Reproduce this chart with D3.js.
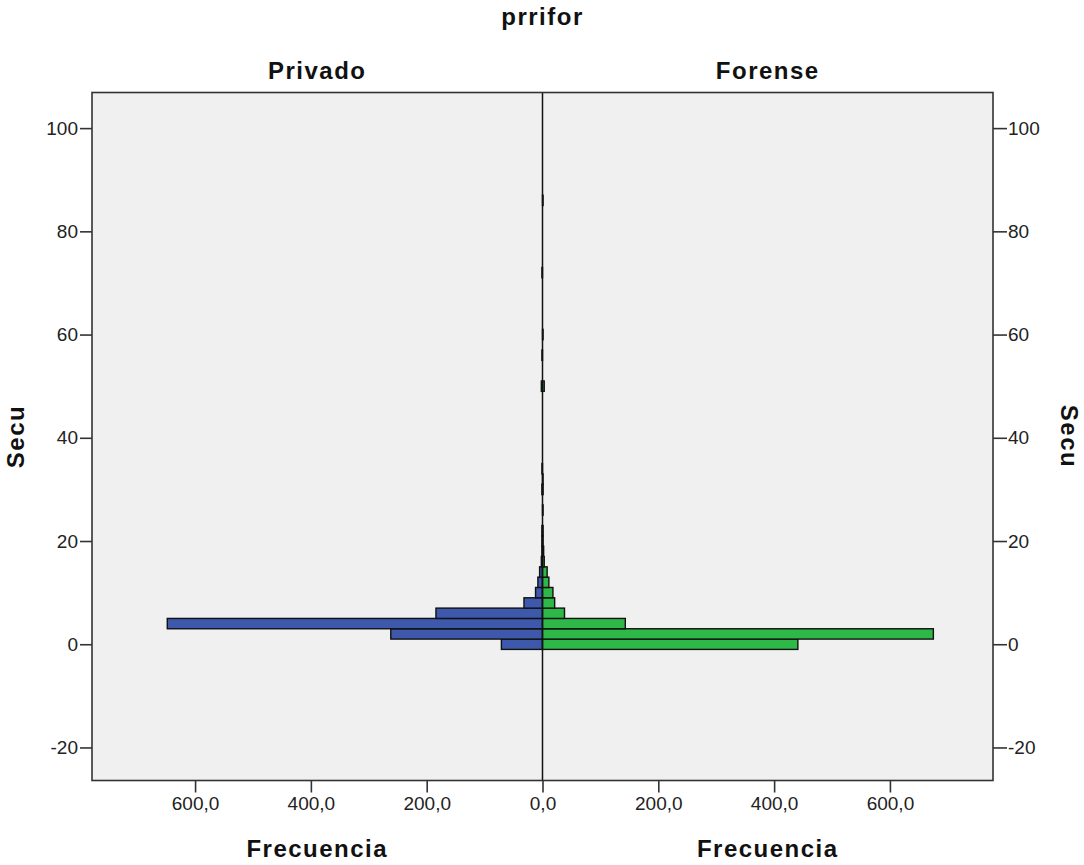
<!DOCTYPE html>
<html>
<head>
<meta charset="utf-8">
<script src="https://cdn.jsdelivr.net/npm/d3@7"></script>
<style>
  body { margin: 0; background: #fff; }
  .axis text { font-family: "Liberation Sans", Arial, sans-serif; font-size: 19px; fill: #222; }
  .axis line { stroke: #333; stroke-width: 1.6; }
  .lbl { font-family: "Liberation Sans", Arial, sans-serif; font-weight: bold; font-size: 24px; letter-spacing: 1.5px; fill: #111; }
</style>
</head>
<body>
<div id="chart"></div>
<script>
// bins of Secu (width 2), counts
const binCenters = [0, 2, 4, 6, 8, 10, 12, 14, 16, 18, 20, 22, 26, 30, 32, 34, 50, 56, 60, 72, 86];
const privado    = [71, 262, 648, 184, 32, 12, 8, 5, 2, 1, 1, 1, 0, 1, 0, 1, 2, 1, 0, 1, 0];
const forense    = [441, 675, 143, 38, 21, 18, 11, 8, 3, 2, 1, 1, 1, 1, 1, 0, 3, 0, 1, 0, 1];
const yTicks = [-20, 0, 20, 40, 60, 80, 100];
const xTicks = [0, 200, 400, 600];
const binWidth = 2;

const W = 1084, H = 865;
const pLeft = 92, pRight = 993, pTop = 92.5, pBottom = 780.5, mid = 542.5;

var svg = d3.select("#chart").append("svg")
            .attr("width", W).attr("height", H);

var y = d3.scaleLinear().domain([-26.4, 106.9]).range([pBottom, pTop]);
var xL = d3.scaleLinear().domain([0, 778]).range([mid, pLeft]);
var xR = d3.scaleLinear().domain([0, 778]).range([mid, pRight]);

var fmt = function(d){ return d.toFixed(1).replace(".", ","); };
var yFmt = function(d){ return String(d); };

// plot background
svg.append("rect")
   .attr("x", pLeft).attr("y", pTop)
   .attr("width", pRight - pLeft).attr("height", pBottom - pTop)
   .attr("fill", "#f0f0f0");

var rows = binCenters.map(function(c, i){ return {c: c, p: privado[i], f: forense[i]}; });

// Privado bars (left)
svg.append("g").selectAll("rect")
   .data(rows.filter(function(d){ return d.p > 0; }))
   .enter().append("rect")
   .attr("x", function(d){ return xL(d.p); })
   .attr("y", function(d){ return y(d.c + binWidth/2); })
   .attr("width", function(d){ return xL(0) - xL(d.p); })
   .attr("height", function(d){ return y(d.c - binWidth/2) - y(d.c + binWidth/2); })
   .attr("fill", "#3e58ac")
   .attr("stroke", "#111").attr("stroke-width", 1.4);

// Forense bars (right)
svg.append("g").selectAll("rect")
   .data(rows.filter(function(d){ return d.f > 0; }))
   .enter().append("rect")
   .attr("x", xR(0))
   .attr("y", function(d){ return y(d.c + binWidth/2); })
   .attr("width", function(d){ return xR(d.f) - xR(0); })
   .attr("height", function(d){ return y(d.c - binWidth/2) - y(d.c + binWidth/2); })
   .attr("fill", "#2eb848")
   .attr("stroke", "#111").attr("stroke-width", 1.4);

// center line
svg.append("line")
   .attr("x1", mid).attr("x2", mid).attr("y1", pTop).attr("y2", pBottom)
   .attr("stroke", "#111").attr("stroke-width", 1.5);

// frame
svg.append("rect")
   .attr("x", pLeft).attr("y", pTop)
   .attr("width", pRight - pLeft).attr("height", pBottom - pTop)
   .attr("fill", "none").attr("stroke", "#333").attr("stroke-width", 1.6);

// y axes
svg.append("g").attr("class", "axis")
   .attr("transform", "translate(" + pLeft + ",0)")
   .call(d3.axisLeft(y).tickValues(yTicks).tickFormat(yFmt).tickSize(12).tickPadding(2))
   .call(function(g){ g.select(".domain").remove(); });

svg.append("g").attr("class", "axis")
   .attr("transform", "translate(" + pRight + ",0)")
   .call(d3.axisRight(y).tickValues(yTicks).tickFormat(yFmt).tickSize(14).tickPadding(1))
   .call(function(g){ g.select(".domain").remove(); });

// x axes
svg.append("g").attr("class", "axis")
   .attr("transform", "translate(0," + pBottom + ")")
   .call(d3.axisBottom(xL).tickValues(xTicks).tickFormat(fmt).tickSize(12).tickPadding(4))
   .call(function(g){ g.select(".domain").remove(); });

svg.append("g").attr("class", "axis")
   .attr("transform", "translate(0," + pBottom + ")")
   .call(d3.axisBottom(xR).tickValues(xTicks.slice(1)).tickFormat(fmt).tickSize(12).tickPadding(4))
   .call(function(g){ g.select(".domain").remove(); });

// titles
svg.append("text").attr("class", "lbl")
   .attr("x", mid).attr("y", 25).attr("text-anchor", "middle").text("prrifor");
svg.append("text").attr("class", "lbl")
   .attr("x", (pLeft + mid) / 2).attr("y", 79).attr("text-anchor", "middle").text("Privado");
svg.append("text").attr("class", "lbl")
   .attr("x", (mid + pRight) / 2).attr("y", 79).attr("text-anchor", "middle").text("Forense");
svg.append("text").attr("class", "lbl")
   .attr("x", (pLeft + mid) / 2).attr("y", 857).attr("text-anchor", "middle").text("Frecuencia");
svg.append("text").attr("class", "lbl")
   .attr("x", (mid + pRight) / 2).attr("y", 857).attr("text-anchor", "middle").text("Frecuencia");
svg.append("text").attr("class", "lbl")
   .attr("transform", "translate(24," + (pTop + pBottom) / 2 + ") rotate(-90)")
   .attr("text-anchor", "middle").text("Secu");
svg.append("text").attr("class", "lbl")
   .attr("transform", "translate(1061," + (pTop + pBottom) / 2 + ") rotate(90)")
   .attr("text-anchor", "middle").text("Secu");
</script>
</body>
</html>
